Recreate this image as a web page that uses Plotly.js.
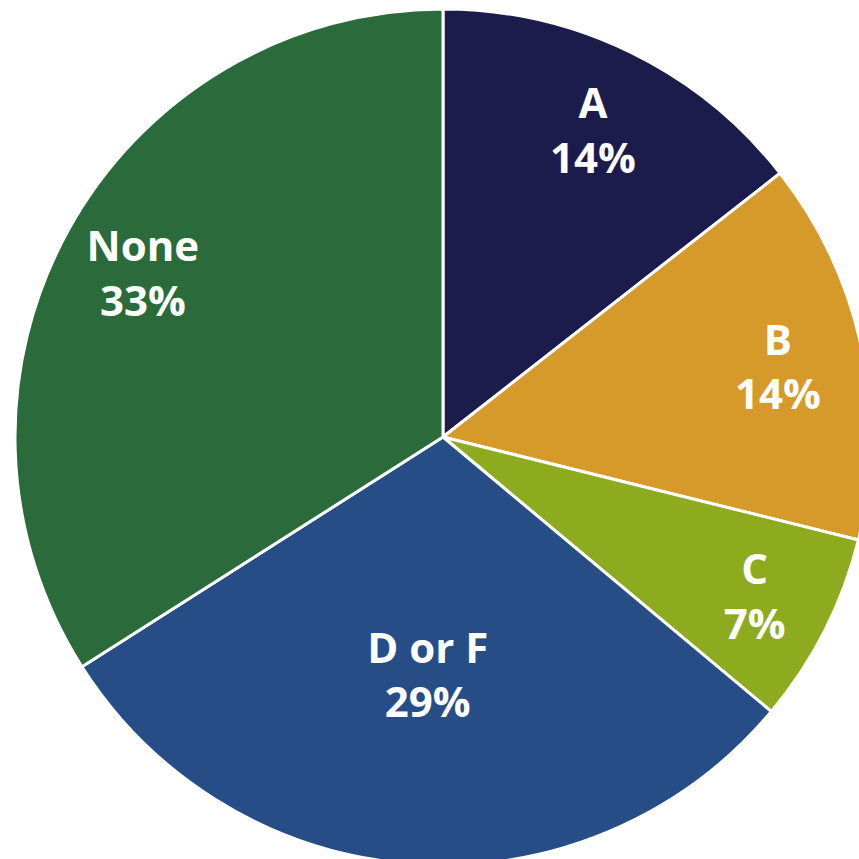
<!DOCTYPE html>
<html><head><meta charset="utf-8">
<script src="https://cdn.plot.ly/plotly-3.0.1.min.js"></script>
<style>html,body{margin:0;padding:0;overflow:hidden;background:#fff;width:859px;height:859px}#chart{width:886px;height:865px}</style>
</head><body><div id="chart"></div>
<script>
const categories = ["A", "B", "C", "D or F", "None"];
const percents = [14, 14, 7, 29, 33];
const colors = ["#1b1b4c", "#d59a2a", "#8eaa1e", "#264d86", "#2b6a3b"];
// which labels sit near the centre (full pie) vs. in the outer ring
const innerLabel = [false, false, false, true, false];

const font = {family: "Open Sans", size: 42, color: "#ffffff", weight: "bold"};
const tmpl = "%{label}<br>%{text}";
const common = {
  type: "pie",
  labels: categories,
  values: percents,
  text: percents.map(v => v + "%"),
  textposition: "inside",
  insidetextorientation: "horizontal",
  textfont: font,
  sort: false,
  direction: "clockwise",
  rotation: 0,
  hoverinfo: "none",
  showlegend: false
};

Plotly.newPlot("chart", [
  Object.assign({}, common, {
    texttemplate: innerLabel.map(f => f ? tmpl : ""),
    marker: {colors: colors, line: {color: "#ffffff", width: 3}}
  }),
  Object.assign({}, common, {
    hole: 0.6,
    texttemplate: innerLabel.map(f => f ? "" : tmpl),
    marker: {colors: categories.map(() => "rgba(0,0,0,0)"), line: {width: 0}}
  })
], {
  width: 886, height: 865,
  margin: {l: 0, r: 0, t: 9, b: 0},
  showlegend: false,
  paper_bgcolor: "#ffffff",
  uniformtext: {minsize: 42, mode: "show"}
}, {displayModeBar: false, staticPlot: true});
</script></body></html>
